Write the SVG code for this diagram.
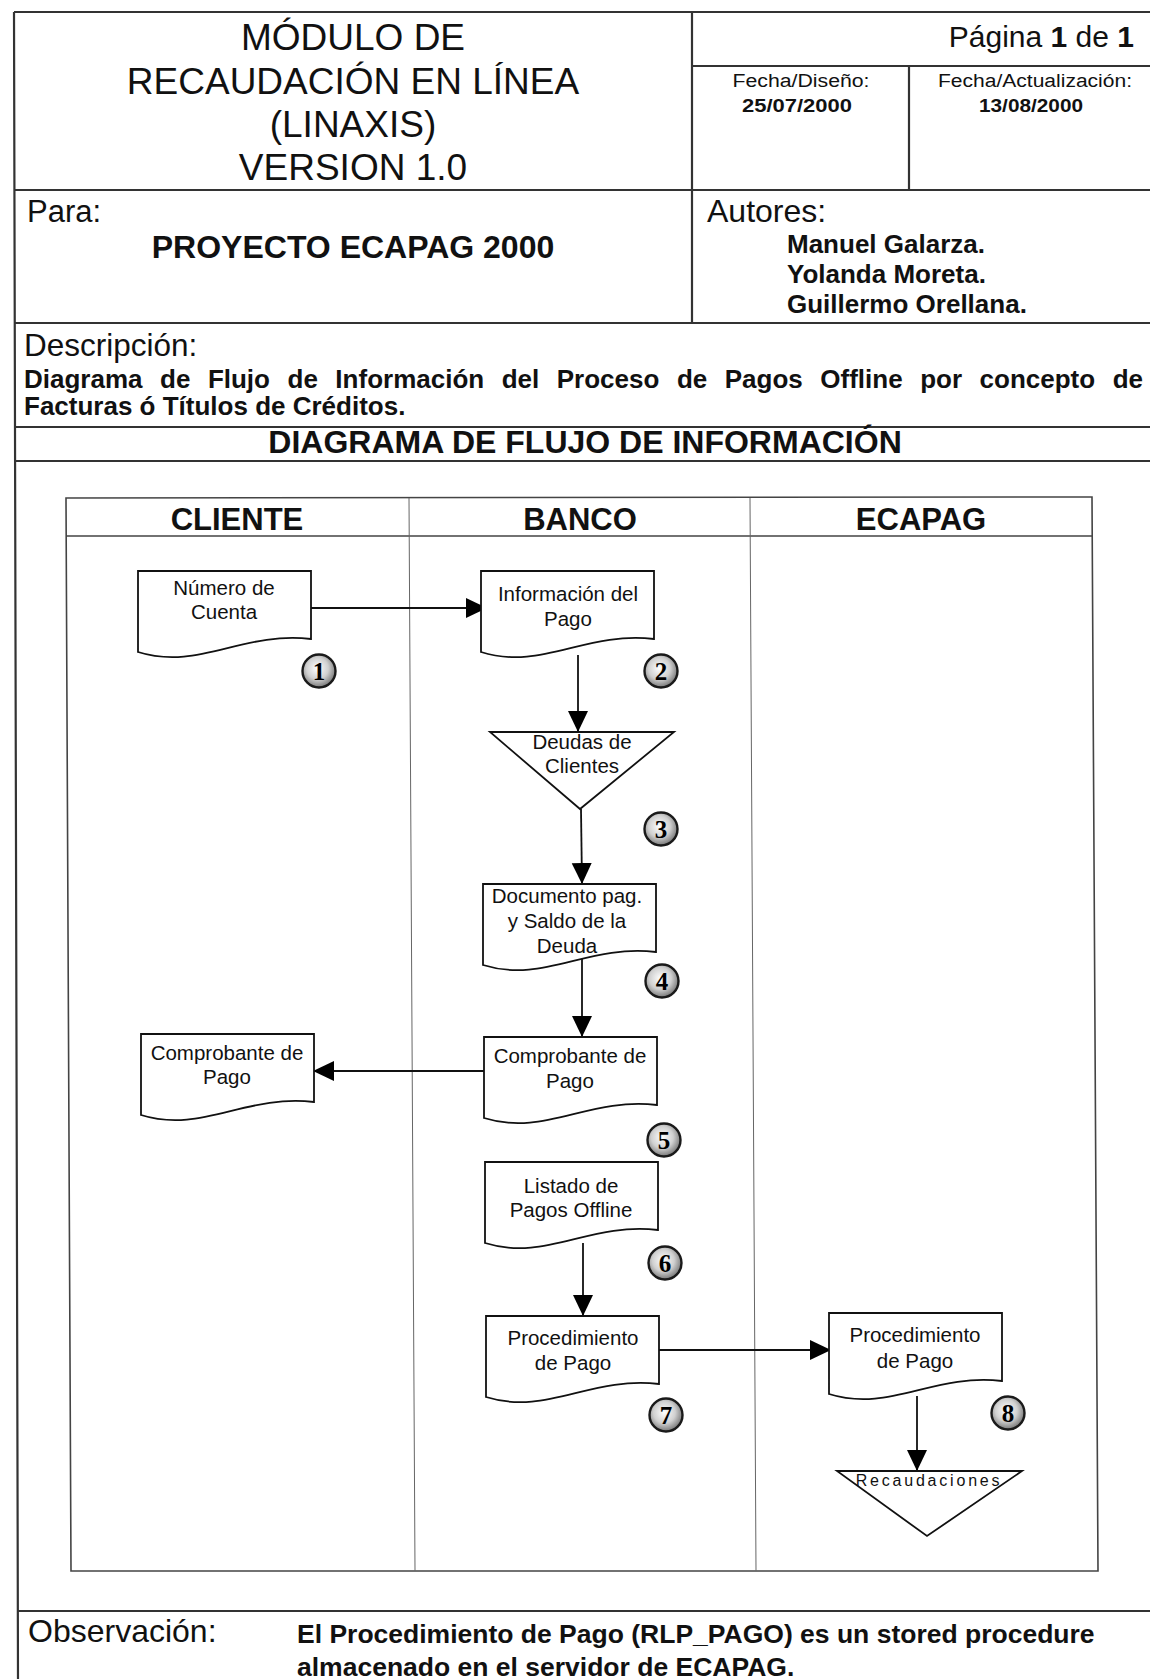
<svg xmlns="http://www.w3.org/2000/svg" xmlns:xlink="http://www.w3.org/1999/xlink" width="1150" height="1679" viewBox="0 0 1150 1679">
<style>
.t{font-family:"Liberation Sans",Arial,sans-serif;fill:#111}
.b{font-weight:bold}
.c{text-anchor:middle}
.frame{stroke:#333;stroke-width:2.2;fill:none}
.lane{stroke:#444;stroke-width:1.6;fill:none}
.div{stroke:#666;stroke-width:1;fill:none}
.shape{stroke:#111;stroke-width:1.8;fill:#fff}
.conn{stroke:#111;stroke-width:1.8;fill:none}
.lbl{font-size:20.5px}
.num{font-family:"Liberation Serif","Times New Roman",serif;font-weight:bold;font-size:25px;text-anchor:middle;fill:#000}
.badge{fill:url(#g);stroke:#1a1a1a;stroke-width:2.4}
</style>
<defs>
<radialGradient id="g" cx="45%" cy="42%" r="60%">
<stop offset="0" stop-color="#ffffff"/>
<stop offset="0.55" stop-color="#d0d0d0"/>
<stop offset="1" stop-color="#707070"/>
</radialGradient>
<path id="doc" d="M0,81 V0 H173 V68 C103.8,60 60.5,100 0,81 Z"/>
<marker id="ah" markerUnits="userSpaceOnUse" markerWidth="22" markerHeight="21" refX="21" refY="10" orient="auto">
<path d="M0,0 L21,10 L0,20 Z" fill="#000"/>
</marker>
</defs>
<rect width="1150" height="1679" fill="#fff"/>

<g id="frame">
<path class="frame" d="M14,12 H1150 M14,12 L18,1679 M692,12 V323 M692,66 H1150 M909,66 V190 M15,190 H1150 M15,323 H1150 M16,427 H1150 M16,461 H1150 M17,1611 H1150"/>
</g>

<g id="header-text">
<text class="t c" x="353" y="50" font-size="37">MÓDULO DE</text>
<text class="t c" x="353" y="94" font-size="37">RECAUDACIÓN EN LÍNEA</text>
<text class="t c" x="353" y="137" font-size="37">(LINAXIS)</text>
<text class="t c" x="353" y="180" font-size="37">VERSION 1.0</text>
<text class="t" x="1134" y="47" font-size="30" text-anchor="end">Página <tspan class="b">1</tspan> de <tspan class="b">1</tspan></text>
<text class="t c" x="801" y="87" font-size="18" textLength="137" lengthAdjust="spacingAndGlyphs">Fecha/Diseño:</text>
<text class="t c b" x="797" y="112" font-size="18" textLength="110" lengthAdjust="spacingAndGlyphs">25/07/2000</text>
<text class="t c" x="1035" y="87" font-size="18" textLength="194" lengthAdjust="spacingAndGlyphs">Fecha/Actualización:</text>
<text class="t c b" x="1031" y="112" font-size="18" textLength="104" lengthAdjust="spacingAndGlyphs">13/08/2000</text>
<text class="t" x="27" y="222" font-size="31">Para:</text>
<text class="t c b" x="353" y="258" font-size="32">PROYECTO ECAPAG 2000</text>
<text class="t" x="707" y="222" font-size="32">Autores:</text>
<text class="t b" x="787" y="253" font-size="26">Manuel Galarza.</text>
<text class="t b" x="787" y="283" font-size="26">Yolanda Moreta.</text>
<text class="t b" x="787" y="313" font-size="26">Guillermo Orellana.</text>
<text class="t" x="24" y="356" font-size="31.5">Descripción:</text>
<text class="t b" x="24" y="388" font-size="26" word-spacing="10.3">Diagrama de Flujo de Información del Proceso de Pagos Offline por concepto de</text>
<text class="t b" x="24" y="415" font-size="26">Facturas ó Títulos de Créditos.</text>
<text class="t c b" x="585" y="453" font-size="32">DIAGRAMA DE FLUJO DE INFORMACIÓN</text>
<text class="t" x="28" y="1642" font-size="32">Observación:</text>
<text class="t b" x="297" y="1643" font-size="26.5">El Procedimiento de Pago (RLP_PAGO) es un stored procedure</text>
<text class="t b" x="297" y="1676" font-size="26.5">almacenado en el servidor de ECAPAG.</text>
</g>

<g id="swimlanes">
<path class="lane" d="M66,498 L1092,497 L1098,1571 L71,1571 Z M66,536 H1093"/>
<path class="div" d="M409,498 L415,1571 M750,498 L756,1571"/>
<text class="t c b" x="237" y="530" font-size="31">CLIENTE</text>
<text class="t c b" x="580" y="530" font-size="31">BANCO</text>
<text class="t c b" x="921" y="530" font-size="31">ECAPAG</text>
</g>

<g id="connectors">
<path class="conn" marker-end="url(#ah)" d="M311,608 H487"/>
<path class="conn" marker-end="url(#ah)" d="M578,655 V732"/>
<path class="conn" marker-end="url(#ah)" d="M581,809 L582,884"/>
<path class="conn" marker-end="url(#ah)" d="M582,959 V1037"/>
<path class="conn" marker-end="url(#ah)" d="M484,1071 H313"/>
<path class="conn" marker-end="url(#ah)" d="M583,1243 V1316"/>
<path class="conn" marker-end="url(#ah)" d="M659,1350 H831"/>
<path class="conn" marker-end="url(#ah)" d="M917,1396 V1471"/>
</g>

<g id="n1">
<use href="#doc" xlink:href="#doc" class="shape" x="138" y="571"/>
<text class="t c lbl" x="224" y="595">Número de</text>
<text class="t c lbl" x="224" y="619">Cuenta</text>
</g>
<g id="n2">
<use href="#doc" xlink:href="#doc" class="shape" x="481" y="571"/>
<text class="t c lbl" x="568" y="601">Información del</text>
<text class="t c lbl" x="568" y="626">Pago</text>
</g>
<g id="n3">
<path class="shape" d="M490,732 H674 L580,809 Z"/>
<text class="t c lbl" x="582" y="749">Deudas de</text>
<text class="t c lbl" x="582" y="773">Clientes</text>
</g>
<g id="n4">
<use href="#doc" xlink:href="#doc" class="shape" x="483" y="884"/>
<text class="t c lbl" x="567" y="903">Documento pag.</text>
<text class="t c lbl" x="567" y="928">y Saldo de la</text>
<text class="t c lbl" x="567" y="953">Deuda</text>
</g>
<g id="n5">
<use href="#doc" xlink:href="#doc" class="shape" x="484" y="1037"/>
<text class="t c lbl" x="570" y="1063">Comprobante de</text>
<text class="t c lbl" x="570" y="1088">Pago</text>
</g>
<g id="n6">
<use href="#doc" xlink:href="#doc" class="shape" x="141" y="1034"/>
<text class="t c lbl" x="227" y="1060">Comprobante de</text>
<text class="t c lbl" x="227" y="1084">Pago</text>
</g>
<g id="n7">
<use href="#doc" xlink:href="#doc" class="shape" x="485" y="1162"/>
<text class="t c lbl" x="571" y="1193">Listado de</text>
<text class="t c lbl" x="571" y="1217">Pagos Offline</text>
</g>
<g id="n8">
<use href="#doc" xlink:href="#doc" class="shape" x="486" y="1316"/>
<text class="t c lbl" x="573" y="1345">Procedimiento</text>
<text class="t c lbl" x="573" y="1370">de Pago</text>
</g>
<g id="n9">
<use href="#doc" xlink:href="#doc" class="shape" x="829" y="1313"/>
<text class="t c lbl" x="915" y="1342">Procedimiento</text>
<text class="t c lbl" x="915" y="1368">de Pago</text>
</g>
<g id="n10">
<path class="shape" d="M837,1471 H1022 L927,1536 Z"/>
<text class="t c" x="929" y="1486" font-size="16" letter-spacing="2.8">Recaudaciones</text>
</g>

<g id="badges">
<circle class="badge" cx="319" cy="671" r="16.5"/><text class="num" x="319" y="679.5">1</text>
<circle class="badge" cx="661" cy="671" r="16.5"/><text class="num" x="661" y="679.5">2</text>
<circle class="badge" cx="661" cy="829" r="16.5"/><text class="num" x="661" y="837.5">3</text>
<circle class="badge" cx="662" cy="981" r="16.5"/><text class="num" x="662" y="989.5">4</text>
<circle class="badge" cx="664" cy="1140" r="16.5"/><text class="num" x="664" y="1148.5">5</text>
<circle class="badge" cx="665" cy="1263" r="16.5"/><text class="num" x="665" y="1271.5">6</text>
<circle class="badge" cx="666" cy="1415" r="16.5"/><text class="num" x="666" y="1423.5">7</text>
<circle class="badge" cx="1008" cy="1413" r="16.5"/><text class="num" x="1008" y="1421.5">8</text>
</g>
</svg>
